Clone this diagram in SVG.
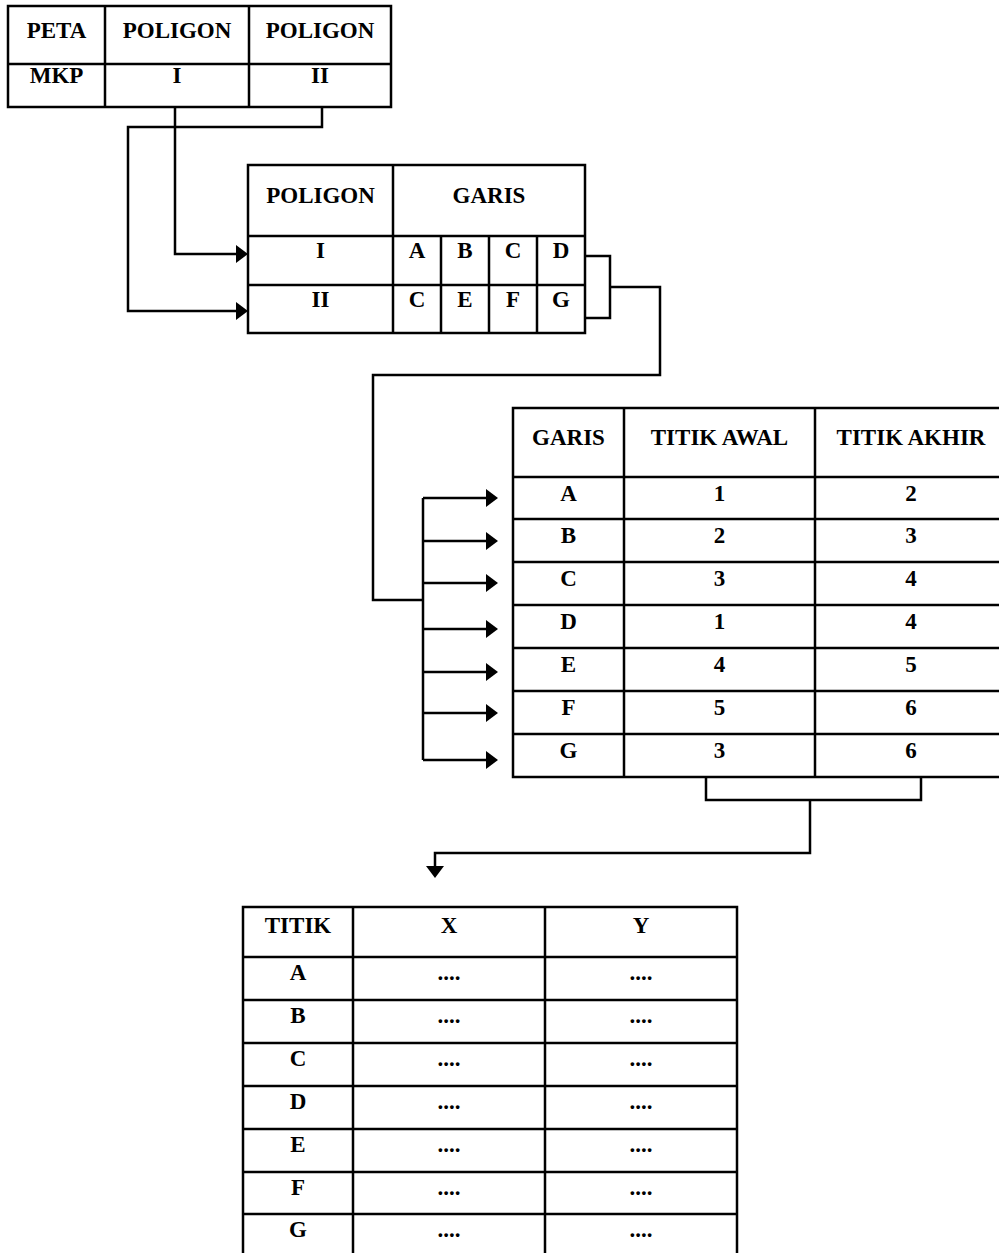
<svg xmlns="http://www.w3.org/2000/svg" width="999" height="1253" viewBox="0 0 999 1253">
<style>
.cell{fill:#fff;stroke:#000;stroke-width:2.5}
.ln{stroke:#000;stroke-width:2.5;fill:none}
.conn{stroke:#000;stroke-width:2.5;fill:none}
.arr{marker-end:url(#ah)}
.t{font-family:"Liberation Serif","Times New Roman",serif;font-weight:bold;font-size:23px;text-anchor:middle;fill:#000}
</style>
<defs>
<marker id="ah" markerUnits="userSpaceOnUse" markerWidth="14" markerHeight="18" refX="2" refY="9" orient="auto" overflow="visible">
<path d="M0,0 L12,9 L0,18 Z" fill="#000"/>
</marker>
</defs>
<rect width="999" height="1253" fill="#fff"/>

<g id="connectors">
<path class="conn arr" d="M175,107 V254 H238"/>
<path class="conn arr" d="M322,107 V127 H128 V311 H238"/>
<path class="conn" d="M585,256 H610 V318 H585"/>
<path class="conn" d="M610,287 H660 V375 H373 V600 H423"/>
<path class="conn" d="M423,498 V760"/>
<path class="conn arr" d="M423,498 H488"/>
<path class="conn arr" d="M423,541 H488"/>
<path class="conn arr" d="M423,583 H488"/>
<path class="conn arr" d="M423,629 H488"/>
<path class="conn arr" d="M423,672 H488"/>
<path class="conn arr" d="M423,713 H488"/>
<path class="conn arr" d="M423,760 H488"/>
<path class="conn" d="M706,777 V800 H921 V777"/>
<path class="conn arr" d="M810,800 V853 H435 V868"/>
</g>

<g id="table-peta">
<rect class="cell" x="8" y="6" width="383" height="101"/>
<path class="ln" d="M8,64 H391 M105,6 V107 M249,6 V107"/>
<text class="t" x="56.5" y="38">PETA</text>
<text class="t" x="177" y="38">POLIGON</text>
<text class="t" x="320" y="38">POLIGON</text>
<text class="t" x="56.5" y="83">MKP</text>
<text class="t" x="177" y="83">I</text>
<text class="t" x="320" y="83">II</text>
</g>

<g id="table-poligon">
<rect class="cell" x="248" y="165" width="337" height="168"/>
<path class="ln" d="M248,236 H585 M248,285 H585 M393,165 V333 M441,236 V333 M489,236 V333 M537,236 V333"/>
<text class="t" x="320.5" y="203">POLIGON</text>
<text class="t" x="489" y="203">GARIS</text>
<text class="t" x="320.5" y="258">I</text>
<text class="t" x="417" y="258">A</text>
<text class="t" x="465" y="258">B</text>
<text class="t" x="513" y="258">C</text>
<text class="t" x="561" y="258">D</text>
<text class="t" x="320.5" y="307">II</text>
<text class="t" x="417" y="307">C</text>
<text class="t" x="465" y="307">E</text>
<text class="t" x="513" y="307">F</text>
<text class="t" x="561" y="307">G</text>
</g>

<g id="table-garis">
<rect class="cell" x="513" y="408" width="492" height="369"/>
<path class="ln" d="M513,477 H1005 M513,519 H1005 M513,562 H1005 M513,605 H1005 M513,648 H1005 M513,691 H1005 M513,734 H1005 M624,408 V777 M815,408 V777"/>
<text class="t" x="568.5" y="445">GARIS</text>
<text class="t" x="719.5" y="445">TITIK AWAL</text>
<text class="t" x="911" y="445">TITIK AKHIR</text>
<text class="t" x="568.5" y="501">A</text><text class="t" x="719.5" y="501">1</text><text class="t" x="911" y="501">2</text>
<text class="t" x="568.5" y="543">B</text><text class="t" x="719.5" y="543">2</text><text class="t" x="911" y="543">3</text>
<text class="t" x="568.5" y="586">C</text><text class="t" x="719.5" y="586">3</text><text class="t" x="911" y="586">4</text>
<text class="t" x="568.5" y="629">D</text><text class="t" x="719.5" y="629">1</text><text class="t" x="911" y="629">4</text>
<text class="t" x="568.5" y="672">E</text><text class="t" x="719.5" y="672">4</text><text class="t" x="911" y="672">5</text>
<text class="t" x="568.5" y="715">F</text><text class="t" x="719.5" y="715">5</text><text class="t" x="911" y="715">6</text>
<text class="t" x="568.5" y="758">G</text><text class="t" x="719.5" y="758">3</text><text class="t" x="911" y="758">6</text>
</g>

<g id="table-titik">
<rect class="cell" x="243" y="907" width="494" height="360"/>
<path class="ln" d="M243,957 H737 M243,1000 H737 M243,1043 H737 M243,1086 H737 M243,1129 H737 M243,1172 H737 M243,1214 H737 M353,907 V1267 M545,907 V1267"/>
<text class="t" x="298" y="933">TITIK</text>
<text class="t" x="449" y="933">X</text>
<text class="t" x="641" y="933">Y</text>
<text class="t" x="298" y="980">A</text><text class="t" x="449" y="980">....</text><text class="t" x="641" y="980">....</text>
<text class="t" x="298" y="1023">B</text><text class="t" x="449" y="1023">....</text><text class="t" x="641" y="1023">....</text>
<text class="t" x="298" y="1066">C</text><text class="t" x="449" y="1066">....</text><text class="t" x="641" y="1066">....</text>
<text class="t" x="298" y="1109">D</text><text class="t" x="449" y="1109">....</text><text class="t" x="641" y="1109">....</text>
<text class="t" x="298" y="1152">E</text><text class="t" x="449" y="1152">....</text><text class="t" x="641" y="1152">....</text>
<text class="t" x="298" y="1195">F</text><text class="t" x="449" y="1195">....</text><text class="t" x="641" y="1195">....</text>
<text class="t" x="298" y="1237">G</text><text class="t" x="449" y="1237">....</text><text class="t" x="641" y="1237">....</text>
</g>
</svg>
